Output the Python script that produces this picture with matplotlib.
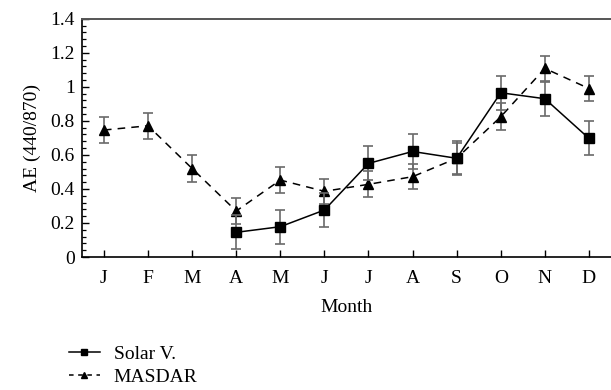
import matplotlib.pyplot as plt
from matplotlib.ticker import AutoMinorLocator
from matplotlib.lines import Line2D

plt.rcParams['font.family'] = ['Liberation Serif', 'DejaVu Serif']

months = ['J', 'F', 'M', 'A', 'M', 'J', 'J', 'A', 'S', 'O', 'N', 'D']
y_ticks = [0, 0.2, 0.4, 0.6, 0.8, 1.0, 1.2, 1.4]
y_labels = ['0', '0.2', '0.4', '0.6', '0.8', '1', '1.2', '1.4']

# Solar Village: no data for Jan-Mar
solar_x = [4, 5, 6, 7, 8, 9, 10, 11, 12]
solar_ae = [0.145, 0.178, 0.276, 0.55, 0.62, 0.58, 0.965, 0.93, 0.697]
solar_err = [0.10, 0.10, 0.10, 0.10, 0.10, 0.10, 0.10, 0.10, 0.10]

masdar_x = [1, 2, 3, 4, 5, 6, 7, 8, 9, 10, 11, 12]
masdar_ae = [0.746, 0.771, 0.52, 0.27, 0.452, 0.386, 0.427, 0.472, 0.58, 0.824, 1.108, 0.99]
masdar_err = [0.075, 0.075, 0.077, 0.078, 0.075, 0.073, 0.077, 0.073, 0.09, 0.078, 0.075, 0.075]

fig = plt.figure(figsize=(6.11, 3.90), dpi=100)
ax = fig.add_axes([0.134, 0.341, 0.866, 0.611])

err_kw = dict(ecolor='#6a6a6a', elinewidth=1.2, capsize=3.5, capthick=1.2)
ax.errorbar(masdar_x, masdar_ae, yerr=masdar_err, color='black', linestyle=(0, (5, 4)),
            linewidth=1.1, marker='^', markersize=7, **err_kw, zorder=3)
ax.errorbar(solar_x, solar_ae, yerr=solar_err, color='black', linestyle='-',
            linewidth=1.1, marker='s', markersize=7, **err_kw, zorder=4)

ax.set_xlim(0.5, 12.5)
ax.set_ylim(0, 1.4)
ax.set_xticks(range(1, 13))
ax.set_xticklabels(months)
ax.set_yticks(y_ticks)
ax.set_yticklabels(y_labels)
ax.yaxis.set_minor_locator(AutoMinorLocator(5))

ax.tick_params(axis='both', which='major', direction='in', labelsize=14, width=1, length=5)
ax.tick_params(axis='x', pad=9)
ax.tick_params(axis='y', pad=5)
ax.tick_params(axis='y', which='minor', direction='in', length=3, width=0.9)

ax.spines['right'].set_visible(False)
ax.spines['top'].set_color('#555555')
ax.spines['top'].set_linewidth(1.4)
for s in ('left', 'bottom'):
    ax.spines[s].set_linewidth(1.2)

ax.set_xlabel('Month', fontsize=14, labelpad=9)
ax.set_ylabel('AE (440/870)', fontsize=14, labelpad=7)

handles = [
    Line2D([], [], color='black', linestyle='-', linewidth=1.1, marker='s', markersize=5),
    Line2D([], [], color='black', linestyle=(0, (3, 3)), linewidth=1.1, marker='^', markersize=5),
]
fig.legend(handles, ['Solar V.', 'MASDAR'], loc='upper left', bbox_to_anchor=(0.1, 0.135),
           frameon=False, fontsize=14, handlelength=1.6, handletextpad=0.7, labelspacing=0.3,
           borderaxespad=0)

fig.savefig('out.png', dpi=100)
